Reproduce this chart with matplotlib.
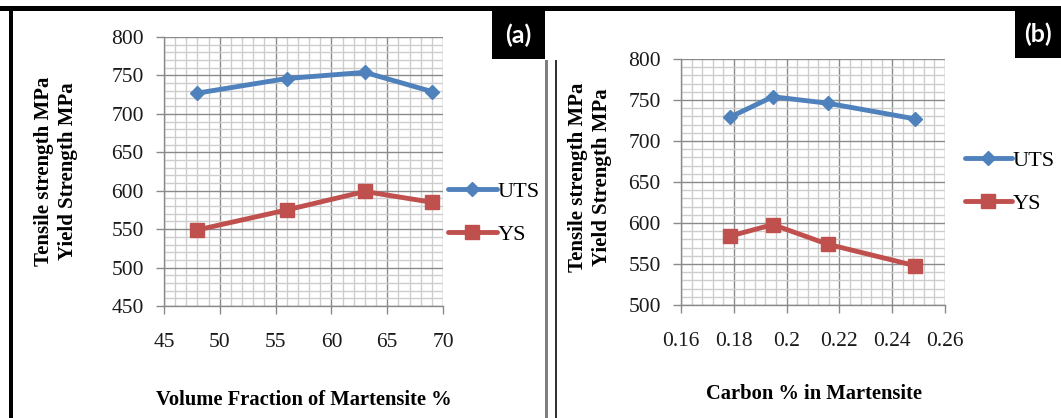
import matplotlib
matplotlib.use("Agg")
import matplotlib.pyplot as plt
from matplotlib.ticker import MultipleLocator
from matplotlib.patches import Rectangle

# ---------------- data ----------------
vf_martensite = [48, 56, 63, 69]
uts_a = [727, 746, 754, 729]
ys_a = [549, 575, 599, 585]

carbon_martensite = [0.1785, 0.1948, 0.2157, 0.2486]
uts_b = [729, 754, 746, 727]
ys_b = [584, 598, 574, 548]

xticks_a = [45, 50, 55, 60, 65, 70]
xticklabels_a = ["45", "50", "55", "60", "65", "70"]
yticks_a = [450, 500, 550, 600, 650, 700, 750, 800]

xticks_b = [0.16, 0.18, 0.20, 0.22, 0.24, 0.26]
xticklabels_b = ["0.16", "0.18", "0.2", "0.22", "0.24", "0.26"]
yticks_b = [500, 550, 600, 650, 700, 750, 800]

series_names = ["UTS", "YS"]
ylabel_text = "Tensile strength MPa\nYield Strength MPa"
xlabel_a = "Volume Fraction of Martensite %"
xlabel_b = "Carbon % in Martensite"
panel_tags = ["(a)", "(b)"]

# ---------------- style ----------------
W, H = 1061, 418
BLUE = "#4F81BD"
RED = "#C0504D"
MAJ = "#8a8a8a"
MIN = "#cdcdcd"
SERIF = ["Liberation Serif", "DejaVu Serif"]

plt.rcParams["font.family"] = SERIF

fig = plt.figure(figsize=(W / 100, H / 100), dpi=100)
fig.patch.set_facecolor("white")


def px_rect(l, t, r, b):
    return [l / W, 1 - b / H, (r - l) / W, (b - t) / H]


def style_axes(ax, xticks, xlabels, yticks, xminor, yminor):
    ax.set_xticks(xticks)
    ax.set_xticklabels(xlabels)
    ax.set_yticks(yticks)
    ax.xaxis.set_minor_locator(MultipleLocator(xminor))
    ax.yaxis.set_minor_locator(MultipleLocator(yminor))
    ax.set_xlim(xticks[0], xticks[-1])
    ax.set_ylim(yticks[0], yticks[-1])
    ax.set_axisbelow(True)
    ax.grid(which="minor", color=MIN, lw=1.0)
    ax.grid(which="major", color=MAJ, lw=1.0)
    for s in ["top", "right"]:
        ax.spines[s].set_visible(False)
    for s in ["left", "bottom"]:
        ax.spines[s].set_color(MAJ)
        ax.spines[s].set_linewidth(1.0)
    ax.tick_params(which="major", direction="out", length=5.5, width=1.0,
                   color=MAJ, labelsize=15.5, labelcolor="#1a1a1a")
    ax.tick_params(axis="x", which="major", pad=14)
    ax.tick_params(axis="y", which="major", pad=9)
    ax.tick_params(which="minor", length=0)


def plot_series(ax, x, uts, ys):
    ax.plot(x, uts, color=BLUE, lw=3.5, marker="D", ms=7.5, mec=BLUE,
            mfc=BLUE, label=series_names[0], solid_joinstyle="round",
            solid_capstyle="round", zorder=3)
    ax.plot(x, ys, color=RED, lw=3.5, marker="s", ms=10.5, mec=RED,
            mfc=RED, label=series_names[1], solid_joinstyle="round",
            solid_capstyle="round", zorder=3)


# panel (a)
ax1 = fig.add_axes(px_rect(164, 37, 443, 306))
plot_series(ax1, vf_martensite, uts_a, ys_a)
style_axes(ax1, xticks_a, xticklabels_a, yticks_a, 1, 10)
ax1.legend(loc="center left", bbox_to_anchor=(448 / W, 1 - 213 / H),
           bbox_transform=fig.transFigure, frameon=False, fontsize=16,
           handlelength=2.2, handletextpad=0.05, labelspacing=1.0,
           borderpad=0, borderaxespad=0)

# panel (b)
ax2 = fig.add_axes(px_rect(681, 59, 945, 305))
plot_series(ax2, carbon_martensite, uts_b, ys_b)
style_axes(ax2, xticks_b, xticklabels_b, yticks_b, 0.004, 10)
ax2.legend(loc="center left", bbox_to_anchor=(965 / W, 1 - 182 / H),
           bbox_transform=fig.transFigure, frameon=False, fontsize=16,
           handlelength=2.1, handletextpad=0.05, labelspacing=1.0,
           borderpad=0, borderaxespad=0)

# axis titles
fig.text(56 / W, 1 - 171 / H, ylabel_text, rotation=90, ha="center",
         va="center", fontsize=15, fontweight="bold", multialignment="center",
         linespacing=1.3)
fig.text(590 / W, 1 - 177 / H, ylabel_text, rotation=90, ha="center",
         va="center", fontsize=15, fontweight="bold", multialignment="center",
         linespacing=1.3)
fig.text(304 / W, 1 - 400 / H, xlabel_a, ha="center", va="center",
         fontsize=14.8, fontweight="bold")
fig.text(814 / W, 1 - 394 / H, xlabel_b, ha="center", va="center",
         fontsize=14.8, fontweight="bold")


# frame decorations
def add_rect(l, t, r, b, color):
    fig.add_artist(Rectangle((l / W, 1 - b / H), (r - l) / W, (b - t) / H,
                             transform=fig.transFigure, facecolor=color,
                             edgecolor="none", zorder=5))


add_rect(0, 6, W, 11, "black")          # top border
add_rect(9, 6, 13, H, "black")          # left border
add_rect(540, 11, 545, 58, "black")     # small block at top of panel b
add_rect(545, 60, 548, H, "#7f7f7f")    # separator lines
add_rect(555, 60, 557, H, "#333333")
add_rect(492, 11, 545, 59, "black")     # tag box (a)
add_rect(1015, 11, W, 58, "black")      # tag box (b)

fig.text(518 / W, 1 - 35 / H, panel_tags[0], color="white", fontsize=18,
         fontweight="bold", family=["Lato", "DejaVu Sans"], ha="center",
         va="center", zorder=6)
fig.text(1038 / W, 1 - 34 / H, panel_tags[1], color="white", fontsize=18,
         fontweight="bold", family=["Lato", "DejaVu Sans"], ha="center",
         va="center", zorder=6)

fig.savefig("out.png", dpi=100, facecolor="white")
